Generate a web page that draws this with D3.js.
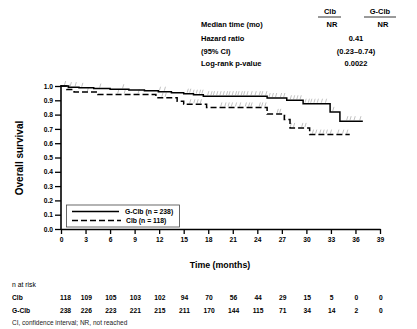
<!DOCTYPE html>
<html>
<head>
<meta charset="utf-8">
<script src="https://cdn.jsdelivr.net/npm/d3@7"></script>
<style>
  html, body { margin: 0; padding: 0; background: #fff; }
  svg { display: block; font-family: "Liberation Sans", Arial, sans-serif; }
  svg text { fill: #000; }
  .b { font-weight: bold; }
</style>
</head>
<body>
<div id="chart"></div>
<script>
// Kaplan-Meier overall survival, G-Clb vs Clb, with risk table

// step curves: time (months) where survival changes, and the value after it
const gclbTimes = [0, 0.9, 2.2, 4.0, 6.0, 8.3, 10.2, 11.9, 13.5, 15.0, 16.2, 17.4, 25.2, 27.6, 29.6, 32.9, 34.1];
const gclbSurv  = [1.0, 0.992, 0.987, 0.982, 0.977, 0.972, 0.967, 0.960, 0.953, 0.946, 0.939, 0.929, 0.916, 0.900, 0.876, 0.819, 0.754];
const gclbEnd = 36.9;

const clbTimes = [0, 0.7, 1.6, 4.5, 11.6, 14.2, 15.0, 17.8, 25.2, 27.3, 28.0, 30.4];
const clbSurv  = [1.0, 0.975, 0.958, 0.941, 0.918, 0.893, 0.872, 0.850, 0.805, 0.765, 0.707, 0.660];
const clbEnd = 35.3;

// censored observations
const gclbCensor = [0.5, 1.2, 1.8, 2.6, 4.8, 7.6, 12.1, 12.7, 15.5, 15.8, 16.2, 16.6, 17.0, 17.3, 18.0, 18.4, 18.7, 19.1,
  19.5, 19.9, 20.3, 20.6, 21.0, 21.4, 21.7, 22.1, 22.4, 22.8, 23.3, 23.8, 24.3, 24.6, 25.1, 25.5, 25.9, 26.3, 26.9,
  27.3, 28.1, 28.5, 28.9, 29.3, 29.9, 30.3, 30.6, 31.0, 31.4, 31.9, 32.4, 33.3, 35.0, 35.4, 35.9, 36.6];
const clbCensor = [1.0, 3.3, 7.0, 7.8, 9.5, 12.4, 12.8, 15.8, 16.3, 16.7, 17.1, 19.6, 20.1, 20.5, 20.9, 21.4, 21.9,
  22.6, 23.0, 23.3, 24.3, 24.6, 25.0, 26.5, 26.8, 27.4, 28.1, 28.5, 29.5, 29.9, 30.8, 31.2, 31.7, 32.1, 32.5, 33.0,
  33.9, 34.5, 35.0];

const xTicks = d3.range(0, 40, 3);
const yTicks = d3.range(0, 11).map(i => i / 10);

const riskClb  = [118, 109, 105, 103, 102, 94, 70, 56, 44, 29, 15, 5, 0, 0];
const riskGclb = [238, 226, 223, 221, 215, 211, 170, 144, 115, 71, 34, 14, 2, 0];

const statLabels = ['Median time (mo)', 'Hazard ratio', '(95% CI)', 'Log-rank p-value'];
const statClb = ['NR', null, null, null];
const statGclb = ['NR', null, null, null];
const statBoth = [null, '0.41', '(0.23\u20130.74)', '0.0022'];

const W = 417, H = 329;
const svg = d3.select('#chart').append('svg').attr('width', W).attr('height', H);

const x = d3.scaleLinear().domain([0, 39]).range([61, 380]);
const y = d3.scaleLinear().domain([0, 1]).range([229, 86]);

// stats table, top right
const tbl = svg.append('g').attr('class', 'b').style('font-size', '7.5px');
const colClb = 330, colG = 380, colBoth = 356;
tbl.append('text').attr('x', colClb).attr('y', 13.5).attr('text-anchor', 'middle').text('Clb');
tbl.append('text').attr('x', colG).attr('y', 13.5).attr('text-anchor', 'middle').text('G-Clb');
tbl.append('line').attr('x1', 318).attr('x2', 341).attr('y1', 17).attr('y2', 17).attr('stroke', '#000').attr('stroke-width', 0.8);
tbl.append('line').attr('x1', 364).attr('x2', 396).attr('y1', 17).attr('y2', 17).attr('stroke', '#000').attr('stroke-width', 0.8);
const rowY = [27, 40.5, 53.5, 66];
statLabels.forEach((lab, i) => {
  tbl.append('text').attr('x', 201).attr('y', rowY[i]).text(lab);
  if (statClb[i]) tbl.append('text').attr('x', colClb + 2).attr('y', rowY[i]).attr('text-anchor', 'middle').text(statClb[i]);
  if (statGclb[i]) tbl.append('text').attr('x', colG + 3).attr('y', rowY[i]).attr('text-anchor', 'middle').text(statGclb[i]);
  if (statBoth[i]) tbl.append('text').attr('x', colBoth).attr('y', rowY[i]).attr('text-anchor', 'middle').text(statBoth[i]);
});

// axes
const yAxis = d3.axisLeft(y).tickValues(yTicks).tickFormat(d3.format('.1f')).tickSize(6).tickSizeOuter(0).tickPadding(2);
const gy = svg.append('g').attr('transform', 'translate(61,0)').call(yAxis);
const xAxis = d3.axisBottom(x).tickValues(xTicks).tickSize(5).tickSizeOuter(0).tickPadding(3);
const gx = svg.append('g').attr('transform', 'translate(0,229)').call(xAxis);
[gx, gy].forEach(g => {
  g.select('.domain').attr('stroke-width', 1.6);
  g.selectAll('.tick line').attr('stroke-width', 1.3);
  g.selectAll('.tick text').attr('class', 'b').style('font-size', '6.7px').attr('fill', '#000')
    .style('font-family', '"Liberation Sans", Arial, sans-serif');
});
gy.select('.domain').attr('d', `M0,${y(1) - 1}V${y(0)}`);

svg.append('text').attr('class', 'b').style('font-size', '10px')
  .attr('transform', 'translate(23,158) rotate(-90)').attr('text-anchor', 'middle').text('Overall survival');
svg.append('text').attr('class', 'b').style('font-size', '8.8px')
  .attr('x', 220).attr('y', 268).attr('text-anchor', 'middle').text('Time (months)');

// survival curves
function stepPoints(times, surv, end) {
  const pts = times.map((t, i) => [t, surv[i]]);
  pts.push([end, surv[surv.length - 1]]);
  return pts;
}
function survAt(times, surv, t) {
  let v = surv[0];
  times.forEach((tt, i) => { if (tt <= t) v = surv[i]; });
  return v;
}
const line = d3.line().x(d => x(d[0])).y(d => y(d[1])).curve(d3.curveStepAfter);

function drawCensor(cens, times, surv) {
  svg.append('g').selectAll('line').data(cens).enter().append('line')
    .attr('x1', d => x(d) - 0.6).attr('x2', d => x(d) + 0.6)
    .attr('y1', d => y(survAt(times, surv, d)) - 1)
    .attr('y2', d => y(survAt(times, surv, d)) - 5)
    .attr('stroke', '#b3b3b3').attr('stroke-width', 0.8);
}
drawCensor(gclbCensor, gclbTimes, gclbSurv);
drawCensor(clbCensor, clbTimes, clbSurv);

svg.append('path').datum(stepPoints(clbTimes, clbSurv, clbEnd)).attr('d', line)
  .attr('fill', 'none').attr('stroke', '#000').attr('stroke-width', 1.5).attr('stroke-dasharray', '6,3');
svg.append('path').datum(stepPoints(gclbTimes, gclbSurv, gclbEnd)).attr('d', line)
  .attr('fill', 'none').attr('stroke', '#000').attr('stroke-width', 1.5);

// legend
const leg = svg.append('g');
leg.append('rect').attr('x', 66.5).attr('y', 205).attr('width', 113).attr('height', 22)
  .attr('fill', '#fff').attr('stroke', '#444').attr('stroke-width', 0.8);
leg.append('line').attr('x1', 72).attr('x2', 119).attr('y1', 211.5).attr('y2', 211.5).attr('stroke', '#000').attr('stroke-width', 1.3);
leg.append('line').attr('x1', 72).attr('x2', 121).attr('y1', 220.5).attr('y2', 220.5).attr('stroke', '#000').attr('stroke-width', 1.3).attr('stroke-dasharray', '6,3');
leg.append('text').attr('class', 'b').style('font-size', '6.8px').attr('fill', '#000').attr('x', 125).attr('y', 214).text('G-Clb (n = 238)');
leg.append('text').attr('class', 'b').style('font-size', '6.8px').attr('fill', '#000').attr('x', 126).attr('y', 223).text('Clb (n = 118)');

// number at risk
svg.append('text').style('font-size', '6.8px').attr('fill', '#000').attr('x', 12).attr('y', 287).text('n at risk');
const risk = svg.append('g').attr('class', 'b').style('font-size', '6.7px');
const riskX = i => x(xTicks[i]) + (i === 0 ? 4.5 : 0.8);
risk.append('text').attr('x', 12).attr('y', 300).text('Clb');
risk.append('text').attr('x', 12).attr('y', 312.5).text('G-Clb');
risk.selectAll('.rc').data(riskClb).enter().append('text')
  .attr('x', (d, i) => riskX(i)).attr('y', 300).attr('text-anchor', 'middle').text(d => d);
risk.selectAll('.rg').data(riskGclb).enter().append('text')
  .attr('x', (d, i) => riskX(i)).attr('y', 312.5).attr('text-anchor', 'middle').text(d => d);

svg.append('text').style('font-size', '6.5px').style('fill', '#222').attr('x', 12).attr('y', 324.5)
  .text('CI, confidence interval; NR, not reached');
</script>
</body>
</html>
